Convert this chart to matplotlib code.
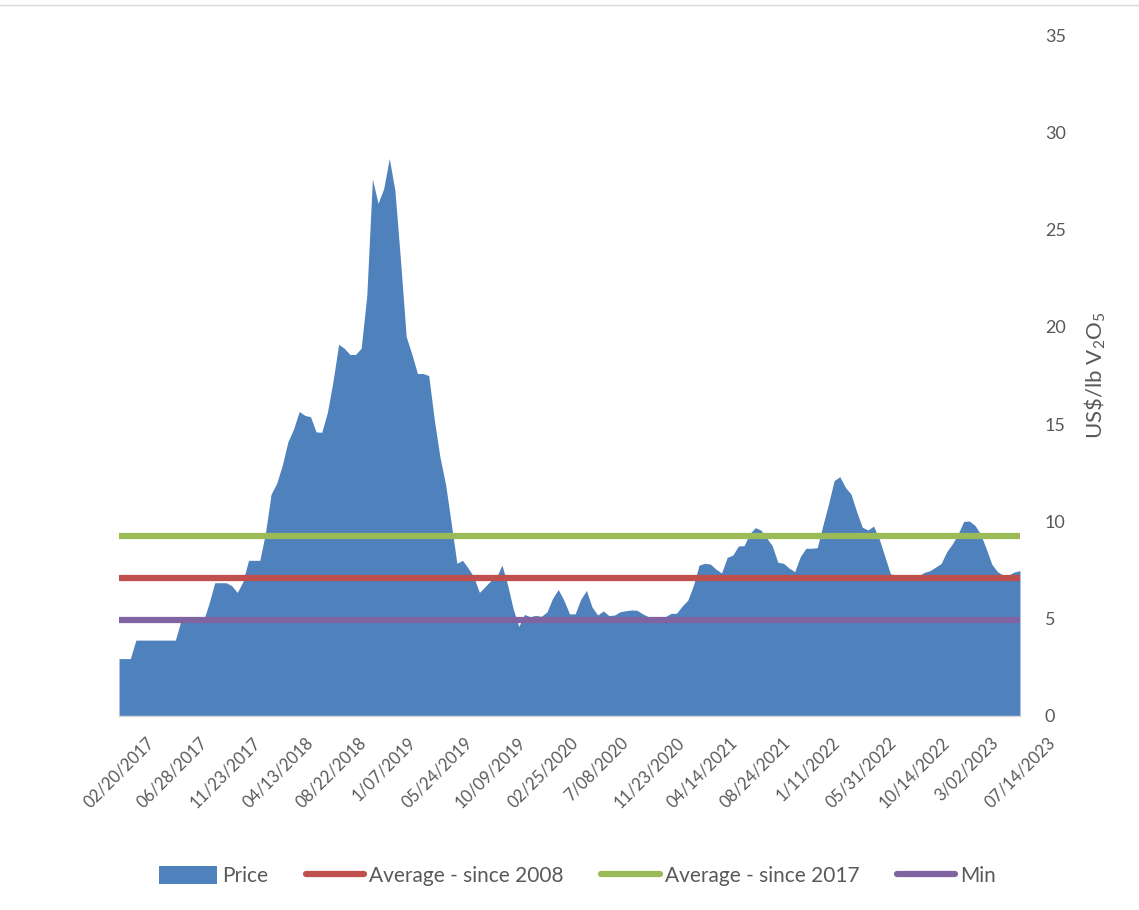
import matplotlib
matplotlib.use("Agg")
import matplotlib.pyplot as plt
from matplotlib.patches import Patch
from matplotlib.lines import Line2D
import numpy as np

# weekly V2O5 price, US$/lb (category axis, one value per slot)
price = [
    2.95, 2.95, 2.95, 3.9, 3.9, 3.9, 3.9, 3.9, 3.9, 3.9,
    3.9, 4.9, 4.9, 4.9, 4.9, 4.9, 5.8, 6.85, 6.85, 6.85,
    6.7, 6.35, 6.9, 8.0, 8.0, 8.0, 9.4, 11.4, 11.96, 12.9,
    14.1, 14.75, 15.65, 15.45, 15.38, 14.6, 14.58, 15.6, 17.2, 19.1,
    18.9, 18.58, 18.58, 18.9, 21.6, 27.6, 26.35, 27.1, 28.66, 27.0,
    23.38, 19.5, 18.6, 17.6, 17.6, 17.5, 15.2, 13.3, 11.9, 9.9,
    7.85, 8.0, 7.6, 7.15, 6.35, 6.65, 6.95, 7.1, 7.76, 6.75,
    5.5, 4.6, 5.22, 5.1, 5.17, 5.12, 5.35, 6.05, 6.5, 5.95,
    5.25, 5.25, 6.0, 6.45, 5.6, 5.19, 5.4, 5.16, 5.19, 5.36,
    5.41, 5.45, 5.43, 5.25, 5.1, 5.08, 5.07, 5.1, 5.27, 5.28,
    5.65, 5.95, 6.7, 7.75, 7.85, 7.81, 7.55, 7.35, 8.15, 8.27,
    8.74, 8.75, 9.37, 9.68, 9.55, 9.16, 8.75, 7.9, 7.85, 7.6,
    7.42, 8.2, 8.62, 8.62, 8.65, 9.8, 10.9, 12.1, 12.3, 11.75,
    11.4, 10.5, 9.7, 9.56, 9.76, 9.1, 8.2, 7.3, 7.25, 7.22,
    7.2, 7.2, 7.2, 7.38, 7.47, 7.65, 7.84, 8.45, 8.85, 9.35,
    10.0, 10.02, 9.8, 9.35, 8.6, 7.8, 7.42, 7.24, 7.25, 7.4,
    7.47,
]

avg_since_2008 = 7.1
avg_since_2017 = 9.25
price_min = 4.95

date_labels = [
    "02/20/2017", "06/28/2017", "11/23/2017", "04/13/2018", "08/22/2018",
    "1/07/2019", "05/24/2019", "10/09/2019", "02/25/2020", "7/08/2020",
    "11/23/2020", "04/14/2021", "08/24/2021", "1/11/2022", "05/31/2022",
    "10/14/2022", "3/02/2023", "07/14/2023",
]

BLUE = "#4F81BD"
RED = "#C0504D"
GREEN = "#9BBB59"
PURPLE = "#8064A2"
GREY = "#595959"

plt.rcParams["font.family"] = ["Lato", "DejaVu Sans"]
plt.rcParams["mathtext.fontset"] = "custom"
plt.rcParams["mathtext.rm"] = "Lato"
plt.rcParams["mathtext.default"] = "rm"

x = np.arange(len(price))

fig = plt.figure(figsize=(11.39, 9.10), dpi=100)
ax = fig.add_axes([0.1045, 0.2132, 0.791, 0.7483])

ax.fill_between(x, price, 0, color=BLUE, linewidth=0)
ends = [x[0], x[-1]]
ax.plot(ends, [avg_since_2008] * 2, color=RED, lw=4.5, solid_capstyle="round")
ax.plot(ends, [avg_since_2017] * 2, color=GREEN, lw=4.5, solid_capstyle="round")
ax.plot(ends, [price_min] * 2, color=PURPLE, lw=4.5, solid_capstyle="round")

ax.set_xlim(x[0], x[-1])
ax.set_ylim(0, 35)
ax.set_yticks(np.arange(0, 36, 5))
ax.yaxis.tick_right()
ax.tick_params(axis="y", length=0, pad=18, labelsize=13, labelcolor=GREY)

# labels spread evenly over the category axis
tick_pos = np.linspace(x[0], x[-1], len(date_labels))
ax.set_xticks(tick_pos)
ax.set_xticklabels(date_labels, rotation=45, ha="center", va="top")
ax.tick_params(axis="x", length=0, pad=13, labelsize=12, labelcolor=GREY)

for side in ["top", "left", "right"]:
    ax.spines[side].set_visible(False)
ax.spines["bottom"].set_color("#d9d9d9")
ax.spines["bottom"].set_linewidth(1)

ax.yaxis.set_label_position("right")
ax.set_ylabel(r"US\$/lb V$_2$O$_5$", color=GREY, fontsize=16, labelpad=12)

handles = [
    Patch(facecolor=BLUE, edgecolor="none"),
    Line2D([], [], color=RED, lw=4.5, solid_capstyle="round"),
    Line2D([], [], color=GREEN, lw=4.5, solid_capstyle="round"),
    Line2D([], [], color=PURPLE, lw=4.5, solid_capstyle="round"),
]
labels = ["Price", "Average - since 2008", "Average - since 2017", "Min"]
fig.legend(handles, labels, loc="center", bbox_to_anchor=(0.507, 0.037), ncol=4,
           frameon=False, fontsize=15, labelcolor=GREY, handlelength=2.8,
           handleheight=0.9, handletextpad=0.25, columnspacing=1.8)

# thin frame line along the top of the chart area
fig.add_artist(Line2D([0, 1], [0.994, 0.994], color="#d9d9d9", lw=1,
                      transform=fig.transFigure))

fig.savefig("out.png", dpi=100)
